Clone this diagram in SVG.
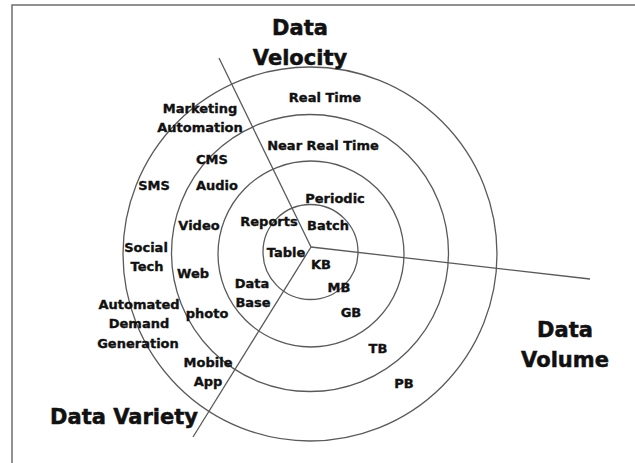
<svg xmlns="http://www.w3.org/2000/svg" width="635" height="463" viewBox="0 0 635 463">
  <style>
    .frame { fill: none; stroke: #6e6e6e; stroke-width: 1.5; }
    .ring { fill: none; stroke: #5a5a5a; stroke-width: 1.3; }
    .axis { fill: none; stroke: #5a5a5a; stroke-width: 1.3; }
    text { font-family: "DejaVu Sans", "Liberation Sans", sans-serif; font-weight: bold; fill: #111; stroke: #111; stroke-width: 0.35; text-anchor: middle; }
    .lbl { font-size: 13px; }
    .title { font-size: 21px; stroke-width: 0.5; }
  </style>
  <rect width="635" height="463" fill="#ffffff"/>
  <rect class="frame" x="12" y="5" width="640" height="480"/>

  <!-- concentric rings -->
  <g id="rings">
    <circle class="ring" cx="310.5" cy="252" r="47.5"/>
    <circle class="ring" cx="311" cy="254" r="93"/>
    <circle class="ring" cx="310" cy="253" r="138.5"/>
    <circle class="ring" cx="310" cy="254" r="187"/>
  </g>

  <!-- three axes -->
  <g id="connectors">
    <line class="axis" x1="219" y1="58" x2="311" y2="247"/>
    <line class="axis" x1="311" y1="247" x2="590" y2="279"/>
    <line class="axis" x1="311" y1="247" x2="193" y2="437"/>
  </g>

  <g id="velocity-title">
    <text class="title" x="300" y="35">Data</text>
    <text class="title" x="300" y="65">Velocity</text>
  </g>
  <g id="volume-title">
    <text class="title" x="565" y="337">Data</text>
    <text class="title" x="565" y="367">Volume</text>
  </g>
  <g id="variety-title">
    <text class="title" x="124" y="424">Data Variety</text>
  </g>

  <!-- velocity scale -->
  <g id="velocity-labels">
    <text class="lbl" x="325" y="102">Real Time</text>
    <text class="lbl" x="323" y="150">Near Real Time</text>
    <text class="lbl" x="335" y="203">Periodic</text>
    <text class="lbl" x="328" y="230">Batch</text>
  </g>

  <!-- volume scale -->
  <g id="volume-labels">
    <text class="lbl" x="321" y="269">KB</text>
    <text class="lbl" x="339" y="292">MB</text>
    <text class="lbl" x="351" y="317">GB</text>
    <text class="lbl" x="378" y="353">TB</text>
    <text class="lbl" x="404" y="388">PB</text>
  </g>

  <!-- variety scale -->
  <g id="variety-labels">
    <text class="lbl" x="286" y="257">Table</text>
    <text class="lbl" x="269" y="226">Reports</text>
    <text class="lbl" x="252" y="288">Data</text>
    <text class="lbl" x="253" y="307">Base</text>
    <text class="lbl" x="212" y="164">CMS</text>
    <text class="lbl" x="217" y="190">Audio</text>
    <text class="lbl" x="199" y="230">Video</text>
    <text class="lbl" x="193" y="278">Web</text>
    <text class="lbl" x="207" y="318">photo</text>
    <text class="lbl" x="208" y="367">Mobile</text>
    <text class="lbl" x="208" y="386">App</text>
    <text class="lbl" x="200" y="113">Marketing</text>
    <text class="lbl" x="200" y="132">Automation</text>
    <text class="lbl" x="154" y="190">SMS</text>
    <text class="lbl" x="146" y="252">Social</text>
    <text class="lbl" x="147" y="271">Tech</text>
    <text class="lbl" x="139" y="309">Automated</text>
    <text class="lbl" x="139" y="328">Demand</text>
    <text class="lbl" x="138" y="348">Generation</text>
  </g>
</svg>
